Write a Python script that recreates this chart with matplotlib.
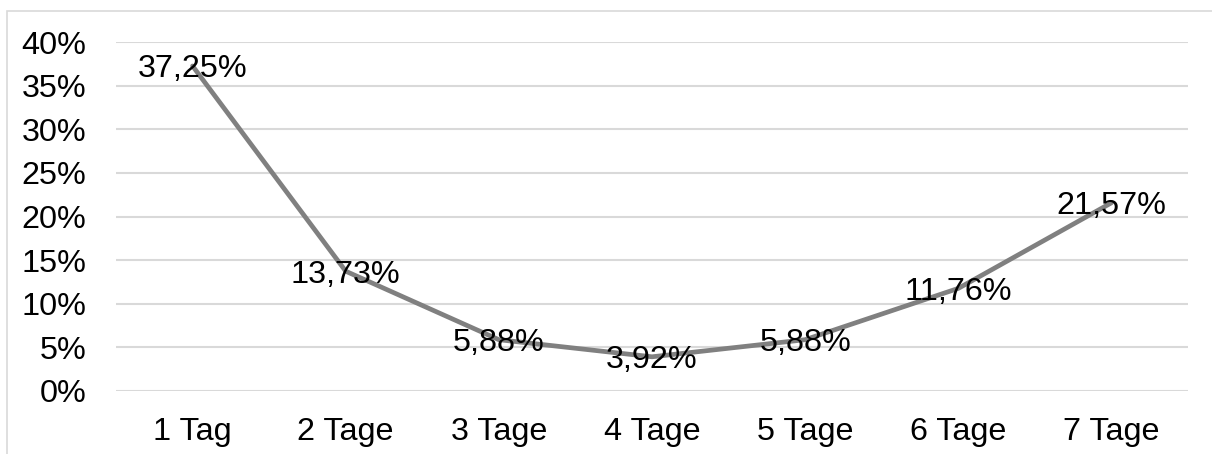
import matplotlib
matplotlib.use("Agg")
import matplotlib.pyplot as plt
from matplotlib.patches import Rectangle
from matplotlib.ticker import FuncFormatter

plt.rcParams['font.family'] = ['Liberation Sans', 'DejaVu Sans']

categories = ['1 Tag', '2 Tage', '3 Tage', '4 Tage', '5 Tage', '6 Tage', '7 Tage']
values = [37.25, 13.73, 5.88, 3.92, 5.88, 11.76, 21.57]
y_ticks = [0, 5, 10, 15, 20, 25, 30, 35, 40]

fs = 23.3
fig = plt.figure(figsize=(12.12, 4.54), dpi=100)
ax = fig.add_axes([116 / 1212, 1 - 391 / 454, 1072 / 1212, 349 / 454])

# light outer frame (chart area border, cut off at right/bottom)
fig.patches.append(Rectangle((7 / 1212, -0.1), 1.2, 1 - 11 / 454 + 0.1,
                             transform=fig.transFigure, fill=False,
                             edgecolor='#d9d9d9', linewidth=1.2))

x = list(range(len(categories)))
ax.plot(x, values, color='#808080', linewidth=3.4, solid_capstyle='round', zorder=3)
for xi, v in zip(x, values):
    ax.text(xi, v, f"{v:.2f}%".replace('.', ','), ha='center', va='center_baseline',
            fontsize=fs, color='black', zorder=4)

ax.set_xlim(-0.5, len(categories) - 0.5)
ax.set_ylim(0, 40)
ax.set_yticks(y_ticks)
ax.yaxis.set_major_formatter(FuncFormatter(lambda v, p: f"{v:.0f}%"))
ax.set_xticks(x)
ax.set_xticklabels(categories)
ax.tick_params(axis='y', length=0, pad=21.5, labelsize=fs)
ax.tick_params(axis='x', length=0, pad=18.5, labelsize=fs)
ax.grid(axis='y', color='#d9d9d9', linewidth=1.5)
ax.set_axisbelow(True)
for s in ax.spines.values():
    s.set_visible(False)

fig.savefig('out.png', dpi=100)
